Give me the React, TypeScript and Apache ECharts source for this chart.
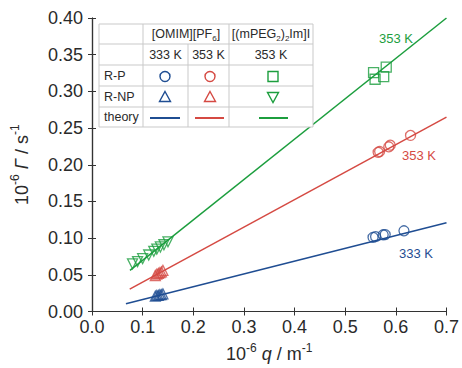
import React, { useEffect, useRef } from "react";
import * as echarts from "echarts";

const BLUE = "#1f4d92";
const RED = "#d54a43";
const GREEN = "#1c9e3e";

// R-P data
const blueRPq = [0.555, 0.560, 0.575, 0.579, 0.616];
const blueRPg = [0.101, 0.102, 0.1045, 0.1048, 0.110];
const redRPq = [0.565, 0.568, 0.586, 0.589, 0.629];
const redRPg = [0.217, 0.218, 0.2245, 0.2267, 0.240];
const greenRPq = [0.556, 0.559, 0.576, 0.581];
const greenRPg = [0.3255, 0.3165, 0.320, 0.333];

// R-NP data
const blueRNPq = [0.125, 0.128, 0.131, 0.134, 0.137, 0.140];
const blueRNPg = [0.021, 0.022, 0.022, 0.023, 0.023, 0.024];
const redRNPq = [0.125, 0.128, 0.131, 0.134, 0.137, 0.140];
const redRNPg = [0.049, 0.051, 0.052, 0.053, 0.054, 0.056];
const greenRNPq = [0.080, 0.090, 0.100, 0.112, 0.122, 0.128, 0.135, 0.142, 0.150];
const greenRNPg = [0.065, 0.068, 0.072, 0.077, 0.082, 0.085, 0.088, 0.091, 0.095];

// theory lines (endpoints)
const theoryBlue = [[0.067, 0.0105], [0.7, 0.121]];
const theoryRed = [[0.0745, 0.0305], [0.7, 0.265]];
const theoryGreen = [[0.075, 0.056], [0.7, 0.4]];

const xTickLabels = ["0.0", "0.1", "0.2", "0.3", "0.4", "0.5", "0.6", "0.7"];
const yTickLabels = ["0.00", "0.05", "0.10", "0.15", "0.20", "0.25", "0.30", "0.35", "0.40"];

const FONT = "Liberation Sans";
const TXT = "#2a2a2a";

const zip = (a: number[], b: number[]) => a.map((v, i) => [v, b[i]]);

function scatter(name: string, q: number[], g: number[], color: string, symbol: string, size: number, rotate = 0) {
  return {
    name,
    type: "scatter",
    data: zip(q, g),
    symbol,
    symbolSize: size,
    symbolRotate: rotate,
    z: 3,
    itemStyle: { color: "rgba(0,0,0,0)", borderColor: color, borderWidth: 1.3 },
  };
}

function theory(name: string, d: number[][], color: string) {
  return {
    name,
    type: "line",
    data: d,
    showSymbol: false,
    symbol: "none",
    z: 2,
    lineStyle: { color, width: 1.5 },
  };
}

function buildLegend() {
  const cx = [99, 143, 188, 229, 313];
  const ry = [24, 44, 65, 86, 107, 127];
  const els: any[] = [];
  const lc = "#c9c9c9";
  els.push({ type: "rect", shape: { x: cx[0], y: ry[0], width: cx[4] - cx[0], height: ry[5] - ry[0] }, style: { fill: "#fff", stroke: lc, lineWidth: 1 }, z: 10 });
  for (let i = 1; i < 5; i++) {
    els.push({ type: "line", shape: { x1: cx[0], y1: ry[i], x2: cx[4], y2: ry[i] }, style: { stroke: lc, lineWidth: 1 }, z: 11 });
  }
  els.push({ type: "line", shape: { x1: cx[1], y1: ry[0], x2: cx[1], y2: ry[5] }, style: { stroke: lc, lineWidth: 1 }, z: 11 });
  els.push({ type: "line", shape: { x1: cx[2], y1: ry[1], x2: cx[2], y2: ry[5] }, style: { stroke: lc, lineWidth: 1 }, z: 11 });
  els.push({ type: "line", shape: { x1: cx[3], y1: ry[0], x2: cx[3], y2: ry[5] }, style: { stroke: lc, lineWidth: 1 }, z: 11 });

  const rich = {
    n: { fontSize: 12.5, fontFamily: FONT, fill: TXT, lineHeight: 16 },
    sub: { fontSize: 8, fontFamily: FONT, fill: TXT, lineHeight: 7, verticalAlign: "bottom" },
  };
  const txt = (text: string, x: number, y: number, align = "center") => ({
    type: "text",
    x,
    y,
    z: 12,
    style: { text, x: 0, y: 0, align, verticalAlign: "middle", fontSize: 12.5, fontFamily: FONT, fill: TXT, rich },
  });
  els.push(txt("{n|[OMIM][PF}{sub|6}{n|]}", (cx[1] + cx[3]) / 2, 34));
  els.push(txt("{n|[(mPEG}{sub|2}{n|)}{sub|2}{n|Im]I}", (cx[3] + cx[4]) / 2, 34));
  els.push(txt("333 K", 165.5, 55));
  els.push(txt("353 K", 208.5, 55));
  els.push(txt("353 K", 271, 55));
  els.push(txt("R-P", 104, 76, "left"));
  els.push(txt("R-NP", 104, 97, "left"));
  els.push(txt("theory", 104, 117, "left"));

  const sw = 1.4;
  els.push({ type: "circle", shape: { cx: 165, cy: 76.5, r: 5 }, style: { fill: "none", stroke: BLUE, lineWidth: sw }, z: 12 });
  els.push({ type: "circle", shape: { cx: 210, cy: 76.5, r: 5 }, style: { fill: "none", stroke: RED, lineWidth: sw }, z: 12 });
  els.push({ type: "rect", shape: { x: 268, y: 71.5, width: 10, height: 10 }, style: { fill: "none", stroke: GREEN, lineWidth: sw }, z: 12 });
  const tri = (x: number, y: number, up: boolean, color: string) => ({
    type: "polygon",
    shape: { points: up ? [[x, y - 5.5], [x + 5.5, y + 4.5], [x - 5.5, y + 4.5]] : [[x - 5.5, y - 4.5], [x + 5.5, y - 4.5], [x, y + 5.5]] },
    style: { fill: "none", stroke: color, lineWidth: sw },
    z: 12,
  });
  els.push(tri(165, 97, true, BLUE));
  els.push(tri(210, 97, true, RED));
  els.push(tri(273, 97, false, GREEN));
  const ln = (x1: number, x2: number, color: string) => ({ type: "line", shape: { x1, y1: 118, x2, y2: 118 }, style: { stroke: color, lineWidth: 2 }, z: 12 });
  els.push(ln(150, 180, BLUE));
  els.push(ln(195, 224, RED));
  els.push(ln(259, 288, GREEN));

  const ann = (text: string, x: number, y: number, color: string) => ({
    type: "text", x, y, z: 5,
    style: { text, align: "left", verticalAlign: "middle", fontSize: 13, fontFamily: FONT, fill: color },
  });
  els.push(ann("353 K", 379, 38, GREEN));
  els.push(ann("353 K", 402, 155, RED));
  els.push(ann("333 K", 399, 253, BLUE));
  return els;
}

export default function App() {
  const ref = useRef<HTMLDivElement>(null);
  useEffect(() => {
    if (!ref.current) return;
    const chart = echarts.init(ref.current, undefined, { renderer: "svg" });
    const axisLine = { show: true, lineStyle: { color: "#333", width: 1.2 } };
    const axisTick = { show: true, inside: true, length: 4, lineStyle: { color: "#333", width: 1 } };
    const nameRich = {
      n: { fontSize: 18, fontFamily: FONT, color: TXT, lineHeight: 25 },
      i: { fontSize: 18, fontFamily: FONT, color: TXT, lineHeight: 25, fontStyle: "italic" },
      s: { fontSize: 12, fontFamily: FONT, color: TXT, lineHeight: 13, verticalAlign: "top" },
    };
    chart.setOption({
      animation: false,
      grid: { left: 92, right: 13, top: 18, bottom: 53, containLabel: false },
      xAxis: [
        {
          type: "value", min: 0, max: 0.7, interval: 0.1, position: "bottom",
          axisLine, axisTick, splitLine: { show: false },
          axisLabel: { fontSize: 18, fontFamily: FONT, color: TXT, margin: 6, formatter: (v: number) => xTickLabels[Math.round(v * 10)] },
          name: "{n|10}{s|-6}{n| }{i|q}{n| / m}{s|-1}",
          nameLocation: "middle", nameGap: 30,
          nameTextStyle: { rich: nameRich },
        },
        {
          type: "value", min: 0, max: 0.7, interval: 0.1, position: "top",
          axisLine, axisTick, axisLabel: { show: false }, splitLine: { show: false },
        },
      ],
      yAxis: [
        {
          type: "value", min: 0, max: 0.4, interval: 0.05, position: "left",
          axisLine, axisTick, splitLine: { show: false },
          axisLabel: { fontSize: 18, fontFamily: FONT, color: TXT, margin: 9, formatter: (v: number) => yTickLabels[Math.round(v * 20)] },
          name: "{n|10}{s|-6}{n| }{i|Γ}{n| / s}{s|-1}",
          nameLocation: "middle", nameGap: 58, nameRotate: 90,
          nameTextStyle: { rich: nameRich },
        },
        {
          type: "value", min: 0, max: 0.4, interval: 0.05, position: "right",
          axisLine, axisTick, axisLabel: { show: false }, splitLine: { show: false },
        },
      ],
      series: [
        theory("theory 333 K", theoryBlue, BLUE),
        theory("theory 353 K", theoryRed, RED),
        theory("theory PEG 353 K", theoryGreen, GREEN),
        scatter("R-P 333 K", blueRPq, blueRPg, BLUE, "circle", 10),
        scatter("R-P 353 K", redRPq, redRPg, RED, "circle", 10),
        scatter("R-P PEG 353 K", greenRPq, greenRPg, GREEN, "rect", 10),
        scatter("R-NP 333 K", blueRNPq, blueRNPg, BLUE, "triangle", 10),
        scatter("R-NP 353 K", redRNPq, redRNPg, RED, "triangle", 10),
        scatter("R-NP PEG 353 K", greenRNPq, greenRNPg, GREEN, "triangle", 10, 180),
      ],
      graphic: buildLegend(),
    });
    return () => chart.dispose();
  }, []);
  return <div ref={ref} style={{ width: 462, height: 368, position: "absolute", left: 0, top: 0 }} />;
}
